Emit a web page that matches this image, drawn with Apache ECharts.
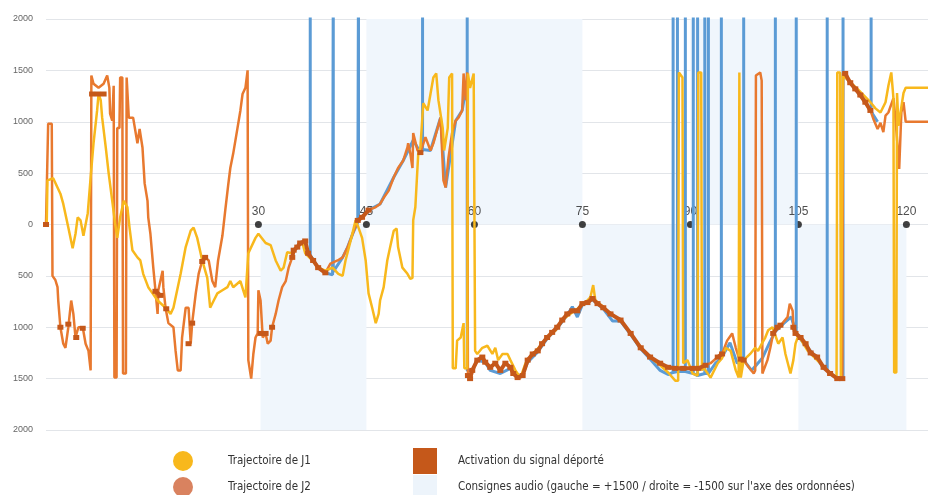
<!DOCTYPE html>
<html><head><meta charset="utf-8">
<script src="https://cdn.jsdelivr.net/npm/echarts@6/dist/echarts.min.js"></script>
<style>html,body{margin:0;padding:0;background:#fff}#c{width:928px;height:495px}</style>
</head><body><div id="c"></div>
<script>
// time axis marks (labelled dots on the zero line)
const xMarks = [30, 45, 60, 75, 90, 105, 120];

// audio instruction bands: start, end, side (+1500 = gauche, -1500 = droite)
const bandStart = [30.3, 45, 75, 90, 105];
const bandEnd   = [45, 75, 90, 105, 120];
const bandSide  = [-1500, 1500, -1500, 1500, -1500];

// Trajectoire de J1 [time, position]
const j1 = [[0.6,0],[0.7,430],[1.5,450],[2.5,300],[2.9,200],[3.6,-30],[4.2,-230],[4.6,-90],[4.9,70],[5.3,40],[5.7,-110],[6.3,110],[6.7,460],[7.1,790],[7.6,1110],[7.8,1270],[8.1,1210],[8.3,1040],[8.8,750],[9.2,500],[9.7,230],[10.1,10],[10.4,-130],[10.8,70],[11.3,230],[11.8,170],[12.1,-30],[12.5,-250],[13.2,-320],[13.6,-350],[14.0,-480],[14.7,-610],[15.3,-670],[16.0,-740],[17.1,-810],[17.8,-870],[18.2,-810],[19.2,-480],[19.9,-220],[20.6,-60],[21.0,-30],[21.5,-130],[22.2,-350],[22.9,-520],[23.3,-810],[23.8,-740],[24.3,-670],[25.0,-640],[25.7,-610],[26.1,-550],[26.5,-610],[27.5,-550],[28.2,-710],[28.6,-280],[29.6,-130],[30.0,-90],[31.0,-180],[31.7,-200],[32.4,-350],[33.1,-450],[33.5,-420],[34.0,-270],[34.7,-280],[35.4,-220],[36.1,-180],[36.5,-280],[37.5,-350],[38.3,-420],[39.3,-450],[40.3,-420],[41.1,-480],[41.7,-500],[42.1,-350],[42.8,-160],[43.5,40],[43.9,-30],[44.4,-130],[44.9,-350],[45.3,-670],[45.8,-810],[46.3,-960],[46.7,-870],[46.9,-740],[47.4,-610],[47.9,-350],[48.3,-220],[48.8,-60],[49.2,-40],[49.4,-220],[50.0,-420],[50.7,-480],[51.1,-530],[51.4,-520],[51.5,40],[51.8,170],[52.2,690],[52.5,750],[52.9,1180],[53.5,1110],[53.9,1270],[54.3,1430],[54.7,1470],[55.0,1210],[55.6,940],[55.8,720],[56.3,940],[56.5,1430],[56.9,1470],[57.0,-1400],[57.4,-1400],[57.6,-1130],[58.1,-1100],[58.5,-960],[58.6,-1400],[59.0,-1400],[59.1,1470],[59.4,1330],[59.9,1470],[60.0,1470],[60.1,-1230],[60.4,-1260],[61.1,-1200],[61.8,-1180],[62.5,-1260],[62.9,-1200],[63.3,-1320],[63.9,-1260],[64.6,-1260],[65.0,-1320],[65.7,-1420],[66.4,-1490],[67.1,-1350],[67.8,-1290],[68.5,-1230],[69.2,-1180],[70.1,-1100],[71.3,-1030],[72.2,-930],[73.3,-870],[74.3,-820],[75.4,-760],[76.1,-710],[76.5,-590],[76.8,-740],[77.9,-800],[78.9,-870],[80.3,-930],[81.7,-1060],[83.1,-1200],[84.4,-1290],[85.8,-1370],[86.9,-1440],[87.9,-1520],[88.3,-1520],[88.4,1480],[88.9,1430],[89.0,-1350],[89.6,-1320],[90.3,-1450],[91.0,-1470],[91.1,1480],[91.5,1480],[91.6,-1420],[91.8,-1390],[92.8,-1490],[93.8,-1350],[94.4,-1300],[94.9,-1200],[95.6,-1230],[96.3,-1420],[96.7,-1490],[96.8,1480],[96.9,1480],[97.0,-1490],[97.4,-1320],[98.3,-1260],[99.0,-1200],[99.4,-1230],[100.0,-1150],[100.4,-1100],[100.8,-1030],[101.4,-1000],[101.8,-1080],[102.2,-1160],[102.8,-1100],[103.2,-1260],[103.9,-1450],[104.3,-1320],[104.6,-1160],[105.0,-1080],[106.3,-1230],[107.6,-1320],[109.0,-1420],[109.9,-1470],[110.3,-1490],[110.4,1480],[110.8,1480],[110.9,-1500],[111.1,-1500],[111.2,1450],[111.5,1430],[113.2,1320],[115.0,1190],[115.7,1130],[116.4,1090],[117.1,1190],[117.5,1350],[117.9,1480],[118.2,1230],[118.3,-1440],[118.6,-1440],[118.7,1280],[118.9,960],[119.4,1190],[119.6,1280],[119.9,1330],[123.1,1330]];

// Trajectoire de J2 [time, position]
const j2 = [[0.5,0],[0.7,0],[0.8,980],[1.3,980],[1.4,-500],[1.8,-540],[2.1,-610],[2.2,-740],[2.5,-1000],[2.9,-1160],[3.2,-1200],[3.6,-1000],[4.0,-740],[4.3,-870],[4.6,-1100],[5.0,-1000],[5.6,-1000],[6.0,-1160],[6.4,-1230],[6.7,-1420],[6.8,1450],[7.1,1370],[7.8,1330],[8.5,1370],[9.0,1450],[9.3,1330],[9.4,1080],[9.7,1010],[9.9,1350],[10.0,-1490],[10.3,-1490],[10.4,940],[10.7,940],[10.8,1430],[11.1,1430],[11.2,-1450],[11.6,-1450],[11.7,1430],[11.9,1430],[12.0,1040],[12.6,1040],[13.2,790],[13.5,930],[13.9,750],[14.2,400],[14.6,230],[14.7,70],[15.0,-90],[15.4,-420],[15.7,-640],[16.0,-870],[16.1,-640],[16.7,-450],[16.8,-610],[17.1,-810],[17.5,-960],[18.2,-1000],[18.5,-1230],[18.8,-1420],[19.2,-1420],[19.4,-1100],[19.9,-810],[20.3,-810],[20.6,-1160],[20.8,-960],[21.3,-670],[21.7,-480],[22.2,-350],[22.6,-320],[23.1,-350],[23.6,-550],[24.0,-610],[24.4,-350],[25.0,-110],[25.4,140],[25.8,380],[26.1,550],[26.5,690],[27.1,940],[27.5,1110],[27.8,1270],[28.2,1330],[28.5,1500],[28.6,-1320],[29.0,-1500],[29.3,-1260],[29.6,-1100],[29.9,-1060],[30.0,-640],[30.3,-740],[30.6,-1100],[31.0,-1060],[31.3,-1160],[31.7,-1130],[31.9,-1000],[32.4,-870],[32.8,-740],[33.3,-610],[33.8,-550],[34.2,-420],[34.7,-320],[34.9,-250],[35.4,-220],[35.8,-180],[36.5,-160],[36.9,-280],[37.6,-350],[38.3,-420],[39.3,-470],[40.0,-380],[41.0,-350],[41.7,-320],[42.4,-220],[43.1,-90],[43.8,40],[44.4,70],[45.3,140],[46.3,170],[46.9,200],[47.4,260],[48.1,330],[48.8,460],[49.4,550],[50.1,620],[50.7,750],[50.8,790],[51.1,690],[51.4,550],[51.5,890],[52.1,720],[52.5,700],[53.2,850],[53.9,720],[54.3,790],[54.9,940],[55.3,1040],[55.7,430],[56.0,360],[56.4,650],[56.9,890],[57.4,1010],[57.8,1040],[58.3,1110],[58.5,1470],[58.8,1210],[59.0,1480],[59.1,-1470],[59.4,-1500],[59.7,-1420],[60.4,-1320],[61.1,-1290],[61.5,-1340],[62.2,-1390],[62.9,-1350],[63.6,-1420],[64.3,-1350],[65.0,-1390],[65.4,-1450],[66.0,-1490],[66.7,-1470],[67.4,-1320],[68.1,-1260],[68.8,-1230],[69.4,-1160],[70.1,-1100],[70.8,-1050],[71.5,-1000],[72.2,-930],[72.9,-870],[73.6,-840],[74.3,-840],[75.0,-770],[75.7,-760],[76.4,-720],[77.1,-770],[77.9,-810],[78.9,-870],[80.3,-930],[81.7,-1060],[83.1,-1200],[84.4,-1290],[85.8,-1350],[86.9,-1390],[87.9,-1400],[89.0,-1400],[90.3,-1400],[91.1,-1400],[92.1,-1370],[92.8,-1350],[93.8,-1290],[94.4,-1260],[95.1,-1130],[95.8,-1060],[96.3,-1200],[96.7,-1290],[97.4,-1320],[98.1,-1390],[98.8,-1450],[99.0,-1420],[99.1,1450],[99.7,1480],[99.9,1400],[100.0,-1450],[100.1,-1450],[100.7,-1320],[101.1,-1200],[101.5,-1060],[102.1,-1000],[102.8,-960],[103.5,-900],[103.8,-770],[104.2,-840],[104.3,-1000],[104.6,-1060],[105.3,-1100],[106.0,-1160],[106.7,-1250],[107.6,-1290],[108.5,-1390],[109.4,-1450],[110.4,-1500],[111.1,-1500],[111.2,1470],[111.5,1470],[112.2,1380],[112.9,1320],[113.6,1260],[114.3,1190],[115.0,1110],[115.4,1030],[116.0,930],[116.4,990],[116.8,900],[117.1,1060],[117.5,1090],[118.2,1230],[118.5,1010],[118.8,740],[119.0,540],[119.3,1090],[119.6,1190],[119.9,1000],[120.1,1000],[123.1,1000]];

// remote signal (blue) [time, position]; 2500 = off the top of the scale
const signal = [[37.2,2500],[37.2,-300],[38.3,-420],[39.3,-470],[40.3,-490],[40.4,-480],[40.4,2500],[40.4,-460],[41.7,-320],[42.4,-220],[43.1,-90],[43.8,20],[43.9,30],[43.9,2500],[43.9,40],[45.3,140],[46.9,200],[48.8,460],[50.1,620],[51.5,820],[52.5,700],[52.8,720],[52.8,2500],[52.8,730],[53.9,720],[55.3,1040],[56.0,360],[57.4,1010],[58.3,1110],[59.0,1400],[59.0,2500],[59.0,-1420],[59.7,-1420],[60.4,-1320],[61.5,-1340],[62.2,-1420],[63.6,-1450],[65.0,-1400],[66.0,-1490],[66.7,-1460],[67.4,-1340],[68.8,-1240],[70.1,-1110],[71.5,-1010],[72.9,-880],[73.6,-800],[74.3,-900],[75.0,-780],[76.4,-730],[77.9,-820],[79.2,-940],[80.3,-940],[81.7,-1070],[83.1,-1210],[84.4,-1310],[85.8,-1420],[86.9,-1460],[87.6,-1440],[87.6,2500],[87.6,-1440],[88.2,-1430],[88.2,2500],[88.2,-1430],[89.3,-1430],[89.3,2500],[89.3,-1430],[90.4,-1450],[90.4,2500],[90.4,-1450],[91.0,-1470],[91.0,2500],[91.0,-1470],[92.0,-1450],[92.0,2500],[92.0,-1450],[92.5,-1450],[92.5,2500],[92.5,-1450],[93.5,-1350],[94.3,-1300],[94.3,2500],[94.3,-1300],[95.5,-1150],[96.5,-1350],[97.4,-1320],[97.4,2500],[97.4,-1320],[98.5,-1420],[100.0,-1300],[101.0,-1150],[101.8,-1040],[101.8,2500],[101.8,-1040],[103.0,-960],[104.0,-900],[104.7,-1060],[104.7,2500],[104.7,-1060],[106.0,-1180],[107.6,-1300],[108.5,-1400],[109.0,-1420],[109.0,2500],[109.0,-1420],[110.0,-1480],[111.2,-1500],[111.2,2500],[111.2,1470],[112.9,1320],[114.3,1190],[115.1,1100],[115.1,2500],[115.1,1100],[116.0,1000]];

// Activation du signal déporté [time, position]; null = no activation
const activation = [[0.5,0],[0.6,null],[2.5,-1000],[2.6,null],[3.6,-970],[3.7,null],[4.7,-1100],[4.8,null],[5.6,-1010],[5.7,null],[6.9,1270],[7.7,1270],[8.5,1270],[8.6,null],[15.7,-650],[16.4,-690],[16.5,null],[17.2,-820],[17.3,null],[20.3,-1160],[20.4,null],[20.8,-960],[20.9,null],[22.2,-360],[22.6,-320],[22.7,null],[30.3,-1060],[31.0,-1060],[31.1,null],[31.9,-1000],[32.0,null],[34.7,-320],[34.9,-250],[35.4,-220],[35.8,-180],[36.5,-160],[36.9,-280],[37.6,-350],[38.3,-420],[39.3,-470],[39.4,null],[43.8,40],[44.4,70],[45.3,140],[45.4,null],[52.5,700],[52.6,null],[59.1,-1470],[59.4,-1500],[59.7,-1420],[60.4,-1320],[61.1,-1290],[61.5,-1340],[62.2,-1390],[62.9,-1350],[63.6,-1420],[64.3,-1350],[65.0,-1390],[65.4,-1450],[66.0,-1490],[66.7,-1470],[67.4,-1320],[68.1,-1260],[68.8,-1230],[69.4,-1160],[70.1,-1100],[70.8,-1050],[71.5,-1000],[72.2,-930],[72.9,-870],[73.6,-840],[74.3,-840],[75.0,-770],[75.7,-760],[76.4,-720],[77.1,-770],[77.9,-810],[78.9,-870],[80.3,-930],[81.7,-1060],[83.1,-1200],[84.4,-1290],[85.8,-1350],[86.9,-1390],[87.9,-1400],[89.0,-1400],[90.3,-1400],[91.1,-1400],[92.1,-1370],[92.2,null],[93.8,-1290],[94.4,-1260],[94.5,null],[97.0,-1310],[97.4,-1320],[97.5,null],[101.5,-1060],[102.1,-1000],[102.5,-980],[102.6,null],[104.3,-1000],[104.6,-1060],[105.3,-1100],[106.0,-1160],[106.7,-1250],[107.6,-1290],[108.5,-1390],[109.4,-1450],[110.4,-1500],[111.1,-1500],[111.2,null],[111.5,1470],[112.2,1380],[112.9,1320],[113.6,1260],[114.3,1190],[115.0,1110]];

const NAME_J1 = 'Trajectoire de J1';
const NAME_J2 = 'Trajectoire de J2';
const NAME_ACT = 'Activation du signal déporté';
const NAME_AUDIO = "Consignes audio (gauche = +1500 / droite = -1500 sur l'axe des ordonnées)";

const FONT = "'DejaVu Sans Condensed', 'DejaVu Sans', sans-serif";

const bands = bandStart.map((s, i) => [
  { xAxis: s, yAxis: bandSide[i] > 0 ? 0 : -2000 },
  { xAxis: bandEnd[i], yAxis: bandSide[i] > 0 ? 2000 : 0 }
]);

function oneLegend(name, color, icon, left, top, w, h, pad) {
  return {
    orient: 'vertical', left: left, top: top, itemWidth: w, itemHeight: h,
    icon: icon, selectedMode: false, padding: 0,
    textStyle: { color: '#333', fontSize: 11.5, fontFamily: FONT, padding: [0, 0, 0, pad] },
    data: [{ name: name, itemStyle: { color: color } }]
  };
}

const chart = echarts.init(document.getElementById('c'), null, { renderer: 'canvas' });
chart.setOption({
  animation: false,
  backgroundColor: '#ffffff',
  grid: { left: 46, right: 0, top: 19, bottom: 65, containLabel: false },
  xAxis: { type: 'value', min: 0.5, max: 123, show: false },
  yAxis: {
    type: 'value', min: -2000, max: 2000, interval: 500,
    axisLine: { show: false }, axisTick: { show: false },
    axisLabel: { formatter: v => String(Math.abs(v)), color: '#666', fontSize: 9, margin: 13, fontFamily: 'Liberation Sans' },
    splitLine: { lineStyle: { color: '#e2e5e9', width: 1 } }
  },
  legend: [
    oneLegend(NAME_J1, '#F8B81C', 'circle', 173, 451, 20, 20, 30),
    oneLegend(NAME_J2, '#D9825F', 'circle', 173, 477, 20, 20, 30),
    oneLegend(NAME_ACT, '#C5581A', 'rect', 413, 448, 24, 26, 16),
    oneLegend(NAME_AUDIO, '#EDF4FB', 'rect', 413, 475, 24, 24, 16)
  ],
  series: [
    {
      name: NAME_AUDIO, type: 'line', data: [], z: 1,
      itemStyle: { color: '#EDF4FB' },
      markArea: { silent: true, itemStyle: { color: '#F0F6FC' }, data: bands }
    },
    {
      name: 'marks', type: 'scatter', z: 2,
      data: xMarks.map(t => [t, 0]),
      symbolSize: 7, itemStyle: { color: '#111' },
      label: { show: true, position: 'top', distance: 3, formatter: p => String(p.value[0]), color: '#222', fontSize: 12, fontFamily: 'Liberation Sans' }
    },
    {
      name: 'signal', type: 'line', z: 3, data: signal, showSymbol: false, symbol: 'none',
      lineStyle: { color: '#5B9BD5', width: 3 }, itemStyle: { color: '#5B9BD5' }
    },
    {
      name: NAME_J2, type: 'line', z: 4, data: j2, showSymbol: false, symbol: 'none',
      lineStyle: { color: '#E8792F', width: 2.5 }, itemStyle: { color: '#E8792F' }
    },
    {
      name: NAME_J1, type: 'line', z: 5, data: j1, showSymbol: false, symbol: 'none',
      lineStyle: { color: '#F8B81C', width: 2.5 }, itemStyle: { color: '#F8B81C' }
    },
    {
      name: NAME_ACT, type: 'line', z: 6,
      data: activation.map(p => [p[0], p[1] === null ? '-' : p[1]]),
      connectNulls: false, showSymbol: true, symbol: 'rect', symbolSize: [6, 5],
      lineStyle: { color: '#C5581A', width: 4 }, itemStyle: { color: '#C5581A' }
    }
  ]
});
</script>
</body></html>
